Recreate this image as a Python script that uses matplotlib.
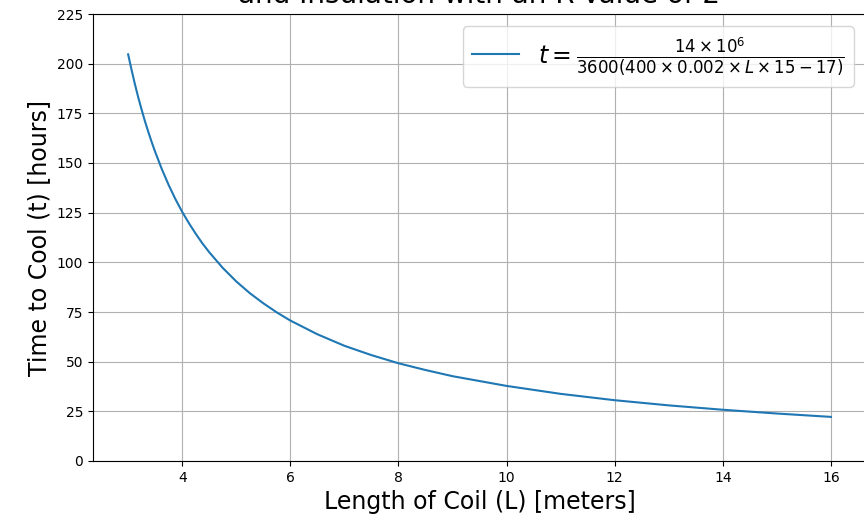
import matplotlib
matplotlib.use("Agg")
import matplotlib.pyplot as plt

# Values
L = [3.0, 3.0625, 3.125, 3.1875, 3.25, 3.3125, 3.375, 3.4375, 3.5, 3.625, 3.75,
     3.875, 4.0, 4.125, 4.25, 4.375, 4.5, 4.75, 5.0, 5.25, 5.5, 5.75, 6.0,
     6.5, 7.0, 7.5, 8.0, 8.5, 9.0, 10.0, 11.0, 12.0, 13.0, 14.0, 15.0, 16.0]
t = [204.7, 197.0, 189.7, 183.0, 176.8, 170.9, 165.5, 160.4, 155.6, 146.8,
     138.9, 131.8, 125.4, 119.7, 114.4, 109.5, 105.1, 97.2, 90.4, 84.5, 79.4,
     74.8, 70.7, 63.8, 58.0, 53.3, 49.2, 45.8, 42.7, 37.8, 33.8, 30.6, 28.0,
     25.8, 23.9, 22.2]
label = r'$t = \frac{14 \times 10^6}{3600(400 \times 0.002 \times L \times 15 - 17)}$'

fig = plt.figure(figsize=(8.64, 5.19), dpi=100)
ax = fig.add_axes([93 / 864, 58 / 519, 773 / 864, 447 / 519])
ax.plot(L, t, label=label)
ax.set_ylim(0, 225)
ax.set_yticks(range(0, 226, 25))
ax.set_title('Time to Cool vs. Length of Coil\nand Insulation with an R-Value of 2',
             fontsize=20, pad=8)
ax.set_xlabel('Length of Coil (L) [meters]', fontsize=17)
ax.set_ylabel('Time to Cool (t) [hours]', fontsize=17)
ax.grid(True)
ax.legend(loc='upper right', fontsize=17)

fig.savefig('out.png', dpi=100)
